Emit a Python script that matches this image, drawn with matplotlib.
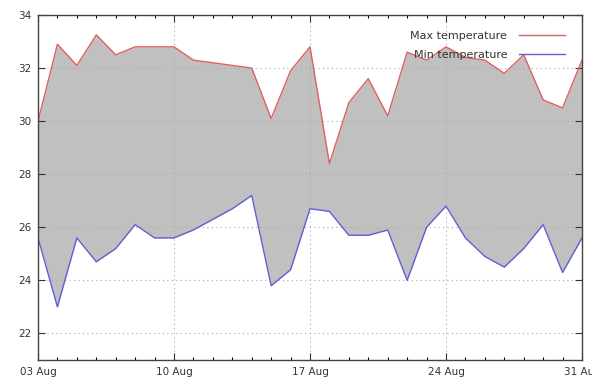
import matplotlib
matplotlib.use("Agg")
import matplotlib.pyplot as plt
import matplotlib.dates as mdates
import numpy as np
import datetime as dt

dates = [dt.date(2015, 8, 3) + dt.timedelta(days=i) for i in range(29)]
max_temp = [30.0, 32.9, 32.1, 33.25, 32.5, 32.8, 32.8, 32.8, 32.3, 32.2, 32.1, 32.0,
            30.1, 31.9, 32.8, 28.4, 30.7, 31.6, 30.2, 32.6, 32.3, 32.8, 32.4, 32.3,
            31.8, 32.5, 30.8, 30.5, 32.3]
min_temp = [25.6, 23.0, 25.6, 24.7, 25.2, 26.1, 25.6, 25.6, 25.9, 26.3, 26.7, 27.2,
            23.8, 24.4, 26.7, 26.6, 25.7, 25.7, 25.9, 24.0, 26.0, 26.8, 25.6, 24.9,
            24.5, 25.2, 26.1, 24.3, 25.6]
major_dates = [dt.date(2015, 8, d) for d in (3, 10, 17, 24, 31)]
y_ticks = [22, 24, 26, 28, 30, 32, 34]

fig = plt.figure(figsize=(5.92, 3.92), dpi=100)
ax = fig.add_axes([38/592, 32/392, 544/592, 345/392])

x = mdates.date2num(dates)
ax.fill_between(x, min_temp, max_temp, color="#c0c0c0", linewidth=0, zorder=1)
ax.plot(x, max_temp, color="#e06060", lw=1.0, label="Max temperature", zorder=3)
ax.plot(x, min_temp, color="#6060d8", lw=1.0, label="Min temperature", zorder=3)

ax.set_xlim(x[0], x[-1])
ax.set_ylim(21, 34)
ax.set_xticks(mdates.date2num(major_dates))
ax.set_xticklabels([d.strftime("%d %b") for d in major_dates])
ax.set_xticks(x, minor=True)
ax.set_yticks(y_ticks)
ax.set_yticklabels([str(v) for v in y_ticks])

ax.tick_params(axis="both", which="major", direction="in", length=5, width=0.8,
               top=True, right=True, labelsize=7.5, colors="#333333", pad=5)
ax.tick_params(axis="both", which="minor", direction="in", length=2.5, width=0.8,
               top=True, right=True)
ax.grid(True, which="major", linestyle=(0, (1, 3)), color="#aaaaaa", linewidth=0.8, zorder=2)
ax.set_axisbelow(False)
for s in ax.spines.values():
    s.set_color("#444444")
    s.set_linewidth(1.0)
    s.set_zorder(4)

leg = ax.legend(loc="upper right", frameon=False, fontsize=8, markerfirst=False,
                bbox_to_anchor=(565/592, 1 - 31/392), bbox_transform=fig.transFigure,
                borderpad=0, borderaxespad=0,
                handlelength=4.1, handletextpad=1.1, labelspacing=0.8)
for t in leg.get_texts():
    t.set_color("#333333")

fig.savefig("out.png", dpi=100)
